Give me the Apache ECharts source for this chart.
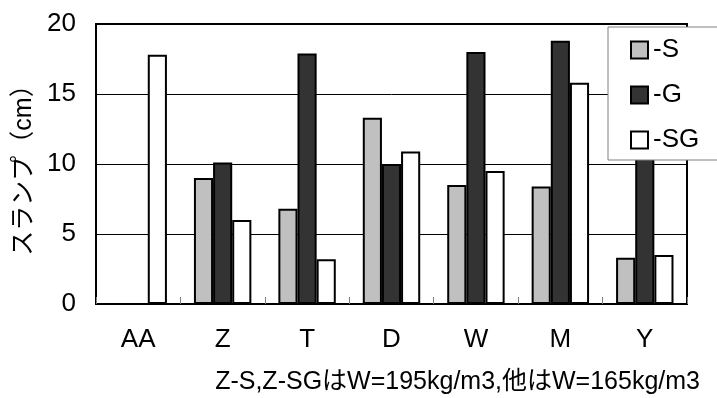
<!DOCTYPE html>
<html><head><meta charset="utf-8">
<script src="https://cdn.jsdelivr.net/npm/echarts@6/dist/echarts.min.js"></script>
<style>html,body{margin:0;padding:0;background:#fff}#c{width:717px;height:398px}</style>
</head><body><div id="c"></div>
<script>
const categories = ['AA', 'Z', 'T', 'D', 'W', 'M', 'Y'];
const seriesS = [null, 9.0, 6.8, 13.3, 8.5, 8.4, 3.3];
const seriesG = [null, 10.1, 17.9, 10.0, 18.0, 18.8, 14.0];
const seriesSG = [17.8, 6.0, 3.2, 10.9, 9.5, 15.8, 3.5];
const yTicks = [0, 5, 10, 15, 20];
const seriesNames = ['-S', '-G', '-SG'];
const yTitle = 'スランプ（cm）';
const note = 'Z-S,Z-SGはW=195kg/m3,他はW=165kg/m3';

const FONT = '"Liberation Sans", Arial, "Noto Sans CJK JP", sans-serif';
const colors = ['#c0c0c0', '#333333', '#ffffff'];
const chart = echarts.init(document.getElementById('c'), null, {renderer: 'canvas'});
const dataArr = [seriesS, seriesG, seriesSG];
chart.setOption({
  animation: false,
  backgroundColor: '#fff',
  textStyle: {fontFamily: FONT},
  grid: {left: 96, right: 30, top: 24, bottom: 94, show: true, borderColor: '#000', borderWidth: 2, backgroundColor: 'transparent'},
  legend: {
    orient: 'vertical', left: 608, top: 27,
    padding: [10, 40, 7, 22],
    backgroundColor: '#fff', borderColor: '#808080', borderWidth: 1,
    itemWidth: 17, itemHeight: 17, itemGap: 19,
    textStyle: {fontSize: 26, color: '#000', fontFamily: FONT, lineHeight: 26},
    data: seriesNames.map((n, i) => ({name: n, icon: 'rect', itemStyle: {color: colors[i], borderColor: '#000', borderWidth: 2}}))
  },
  xAxis: {
    type: 'category', data: categories,
    axisLine: {lineStyle: {color: '#000', width: 2}},
    axisTick: {show: true, inside: true, length: 7, lineStyle: {color: '#808080', width: 1}},
    axisLabel: {fontSize: 26, color: '#000', margin: 23, fontFamily: FONT},
    splitLine: {show: false}
  },
  yAxis: {
    type: 'value', min: yTicks[0], max: yTicks[yTicks.length - 1], interval: 5,
    name: yTitle, nameLocation: 'middle', nameGap: 53, nameRotate: 90,
    nameTextStyle: {fontSize: 25, color: '#000', fontFamily: FONT},
    axisLine: {show: true, lineStyle: {color: '#000', width: 2}},
    axisTick: {show: false},
    axisLabel: {fontSize: 26, color: '#000', margin: 20, fontFamily: FONT},
    splitLine: {show: true, lineStyle: {color: '#000', width: 1}}
  },
  series: seriesNames.map((n, i) => ({
    name: n, type: 'bar', data: dataArr[i],
    barGap: '0%', barCategoryGap: '32%',
    itemStyle: {color: colors[i], borderColor: '#000', borderWidth: 2}
  })),
  graphic: [{
    type: 'text', right: 17, top: 370,
    style: {text: note, fill: '#000', font: '25px ' + FONT}
  }]
});
</script></body></html>
